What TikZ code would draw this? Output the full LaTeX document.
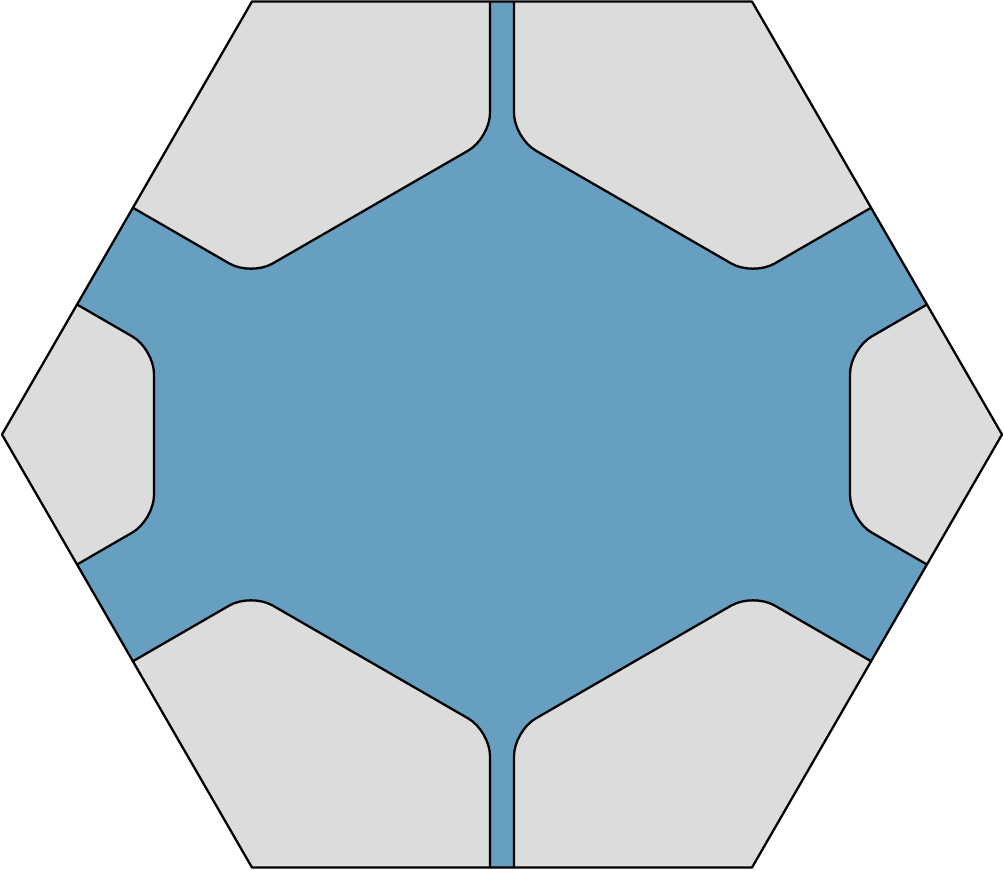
\documentclass[tikz,border=0pt]{standalone}
\usetikzlibrary{calc}
\definecolor{channel}{HTML}{669FC0}
\definecolor{solid}{HTML}{DCDCDC}

\begin{document}
\begin{tikzpicture}[x=0.02cm, y=0.02cm,
  wall/.style={draw=black, line width=1.3pt, line join=round},
  grain/.style={wall, fill=solid, rounded corners=0.5cm}
]
\useasboundingbox (-502,-435.5) rectangle (502,434.5);
% corners of the outer hexagon
\foreach \a in {0,60,...,300}
  \coordinate (h\a) at (\a:500);

\begin{scope}
  \clip (h0) -- (h60) -- (h120) -- (h180) -- (h240) -- (h300) -- cycle;
  \fill[channel] (h0) -- (h60) -- (h120) -- (h180) -- (h240) -- (h300) -- cycle;
  % grey grains, mirrored into each quadrant
  \foreach \sx in {1,-1} {
    \foreach \sy in {1,-1}
      \draw[grain, xscale=\sx, yscale=\sy] (-12,520) -- (-12,296.5) -- (-251,158.5)
        -- (-424,258.5) -- (-424,520) -- cycle;
    \draw[grain, xscale=\sx] (-484.6,164.5) -- (-348,85.5) -- (-348,-85.5)
      -- (-484.6,-164.5) -- (-560,-164.5) -- (-560,164.5) -- cycle;
  }
\end{scope}

% outline
\draw[wall] (h0) -- (h60) -- (h120) -- (h180) -- (h240) -- (h300) -- cycle;
\end{tikzpicture}
\end{document}
